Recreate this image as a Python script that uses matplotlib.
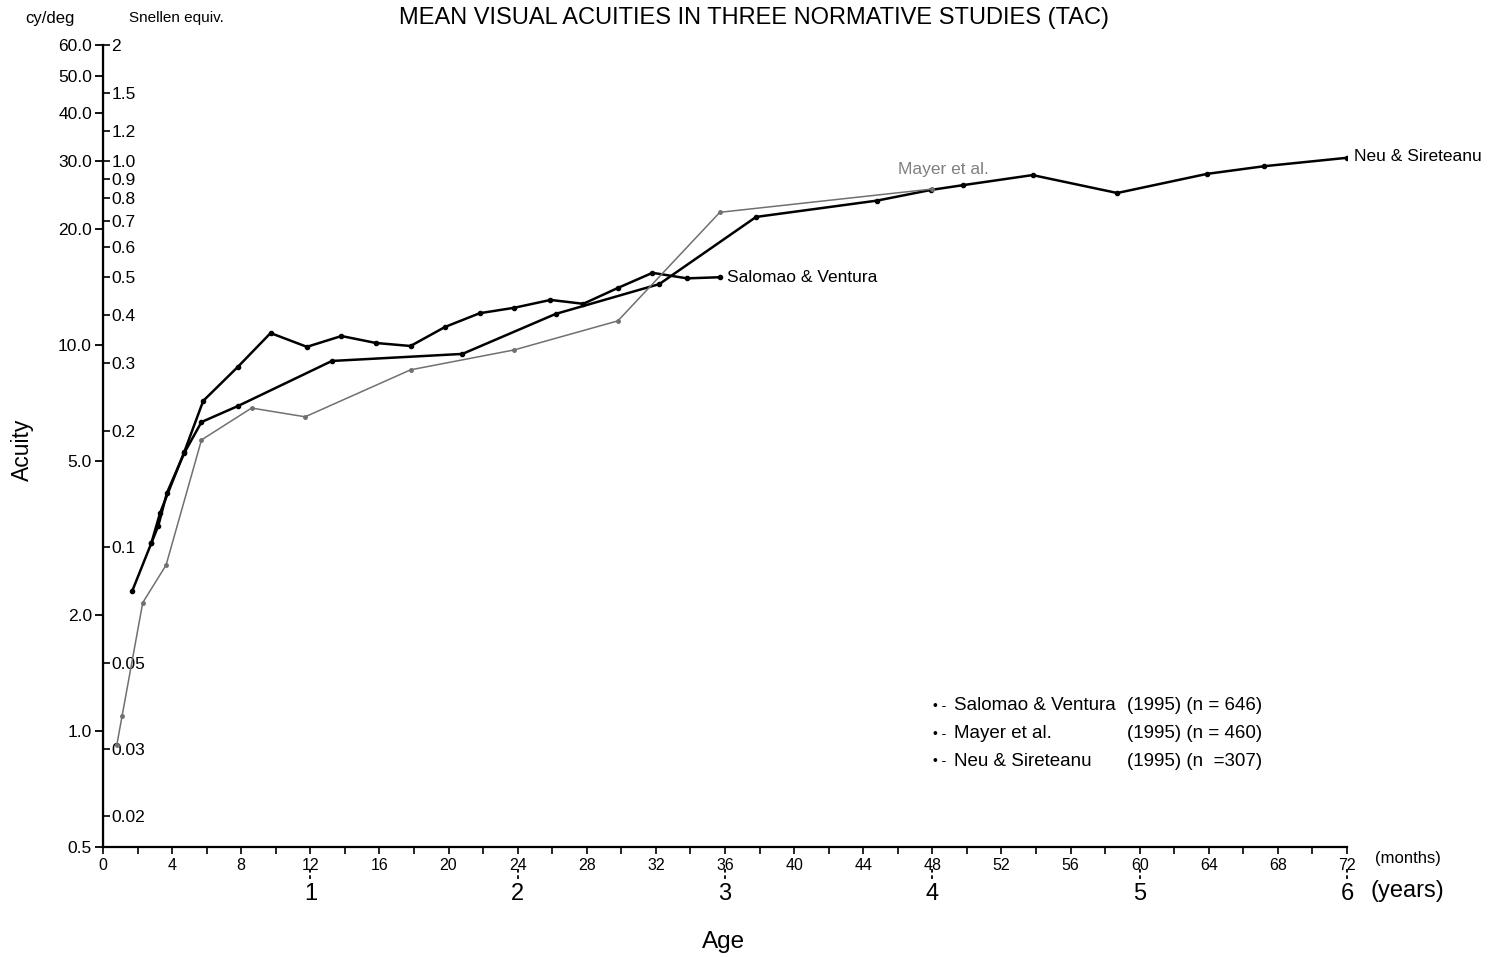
# Mean visual acuities in three normative studies (Teller Acuity Cards)
import matplotlib.pyplot as plt
from matplotlib.ticker import NullLocator
from matplotlib.transforms import blended_transform_factory

plt.rcParams['font.family'] = ['Liberation Sans', 'DejaVu Sans']

# Salomao & Ventura (1995), n = 646  (age in months, acuity in cy/deg)
salomao_age = [2.8, 3.3, 4.7, 5.8, 7.8, 9.7, 11.8, 13.8, 15.8, 17.8, 19.8,
               21.8, 23.8, 25.9, 27.8, 29.8, 31.8, 33.8, 35.7]
salomao_acuity = [3.07, 3.67, 5.28, 7.17, 8.78, 10.75, 9.9, 10.56, 10.13, 9.95,
                  11.15, 12.1, 12.5, 13.1, 12.8, 14.07, 15.4, 14.9, 15.0]

# Mayer et al. (1995), n = 460
mayer_age = [0.8, 1.1, 2.3, 3.65, 5.7, 8.6, 11.7, 17.8, 23.8, 29.8, 35.7, 48.0]
mayer_acuity = [0.92, 1.09, 2.15, 2.69, 5.68, 6.87, 6.52, 8.63, 9.72, 11.56,
                22.1, 25.4]

# Neu & Sireteanu (1995), n = 307
neu_age = [1.7, 2.8, 3.2, 3.7, 4.7, 5.7, 7.8, 13.25, 20.8, 26.2, 32.2, 37.8,
           44.8, 47.9, 49.8, 53.8, 58.7, 63.9, 67.2, 72.0]
neu_acuity = [2.31, 3.07, 3.40, 4.14, 5.25, 6.32, 6.95, 9.1, 9.49, 12.05, 14.4,
              21.5, 23.7, 25.25, 26.0, 27.6, 24.8, 27.8, 29.1, 30.6]

# axis ticks
cyc_ticks = [60, 50, 40, 30, 20, 10, 5, 2, 1, 0.5]
cyc_labels = ["60.0", "50.0", "40.0", "30.0", "20.0", "10.0", "5.0", "2.0", "1.0", "0.5"]
snellen_ticks = [2, 1.5, 1.2, 1.0, 0.9, 0.8, 0.7, 0.6, 0.5, 0.4, 0.3, 0.2, 0.1,
                 0.05, 0.03, 0.02]
snellen_labels = ["2", "1.5", "1.2", "1.0", "0.9", "0.8", "0.7", "0.6", "0.5",
                  "0.4", "0.3", "0.2", "0.1", "0.05", "0.03", "0.02"]
month_ticks = list(range(0, 73, 4))
years = [1, 2, 3, 4, 5, 6]

legend_names = ["Salomao & Ventura", "Mayer et al.", "Neu & Sireteanu"]
legend_info = ["(1995) (n = 646)", "(1995) (n = 460)", "(1995) (n  =307)"]

W, H = 1494, 957


def fx(px):
    return px / W


def fy(py):
    return 1 - py / H


fig = plt.figure(figsize=(W / 100, H / 100), dpi=100)
ax = fig.add_axes([fx(103), fy(847), 1244 / W, 802 / H])

ax.plot(neu_age, neu_acuity, color="black", lw=1.8, marker="o", ms=3)
ax.plot(salomao_age, salomao_acuity, color="black", lw=1.8, marker="o", ms=3)
ax.plot(mayer_age, mayer_acuity, color="#707070", lw=1.1, marker="o", ms=2.5)

ax.set_yscale("log")
ax.set_ylim(0.5, 60)
ax.set_xlim(0, 72)
for s in ["top", "right"]:
    ax.spines[s].set_visible(False)
for s in ["left", "bottom"]:
    ax.spines[s].set_linewidth(1.6)

ax.set_yticks(cyc_ticks, labels=cyc_labels)
ax.yaxis.set_minor_locator(NullLocator())
ax.tick_params(axis="y", direction="out", length=6, width=1.3, labelsize=12.5, pad=2)

ax.set_xticks(month_ticks, labels=[str(m) for m in month_ticks])
ax.set_xticks(range(0, 73, 2), minor=True)
ax.tick_params(axis="x", which="both", direction="out", length=5, width=1.2,
               labelsize=11.5, pad=3)

# Snellen equivalents on the same spine (30 cy/deg = 1.0)
sec = ax.secondary_yaxis(0.0, functions=(lambda v: v / 30, lambda s: s * 30))
sec.set_alignment("right")
sec.set_yticks(snellen_ticks, labels=snellen_labels)
sec.yaxis.set_minor_locator(NullLocator())
sec.tick_params(direction="out", length=5, width=1.2, labelsize=12.5, pad=1)

# years below the month axis
trans = blended_transform_factory(ax.transData, ax.transAxes)
for yr in years:
    ax.plot([yr * 12, yr * 12], [-0.027, -0.041], color="black", lw=1.3,
            ls=(0, (2, 1.5)), transform=trans, clip_on=False)
    ax.text(yr * 12, -0.058, str(yr), transform=trans, ha="center", va="center",
            fontsize=17)
fig.text(fx(1375), fy(858), "(months)", ha="left", va="center", fontsize=12)
fig.text(fx(1370), fy(891), "(years)", ha="left", va="center", fontsize=17)

# series labels next to the lines
ax.annotate("Salomao & Ventura", xy=(salomao_age[-1], salomao_acuity[-1]),
            xytext=(5, 0), textcoords="offset points", va="center", fontsize=12.5)
ax.annotate("Mayer et al.", xy=(mayer_age[-1], mayer_acuity[-1]),
            xytext=(8, 14), textcoords="offset points", ha="center", va="center",
            fontsize=12.5, color="#808080")
ax.annotate("Neu & Sireteanu", xy=(neu_age[-1], neu_acuity[-1]),
            xytext=(5, 1), textcoords="offset points", va="center", fontsize=12.5)

# legend written as text
for i, (name, info) in enumerate(zip(legend_names, legend_info)):
    y = fy(706 + i * 27.5)
    fig.text(fx(933), y, "• -", ha="left", va="center", fontsize=10)
    fig.text(fx(954), y, name, ha="left", va="center", fontsize=13.5)
    fig.text(fx(1262), y, info, ha="right", va="center", fontsize=13.5)

fig.text(fx(754), fy(18), "MEAN VISUAL ACUITIES IN THREE NORMATIVE STUDIES (TAC)",
         ha="center", va="center", fontsize=17)
fig.text(fx(50), fy(18), "cy/deg", ha="center", va="center", fontsize=12)
fig.text(fx(176), fy(18), "Snellen equiv.", ha="center", va="center", fontsize=11)
fig.text(fx(22), fy(450), "Acuity", rotation=90, ha="center", va="center", fontsize=16.5)
fig.text(fx(724), fy(942), "Age", ha="center", va="center", fontsize=17.5)

fig.savefig("out.png", dpi=100)
